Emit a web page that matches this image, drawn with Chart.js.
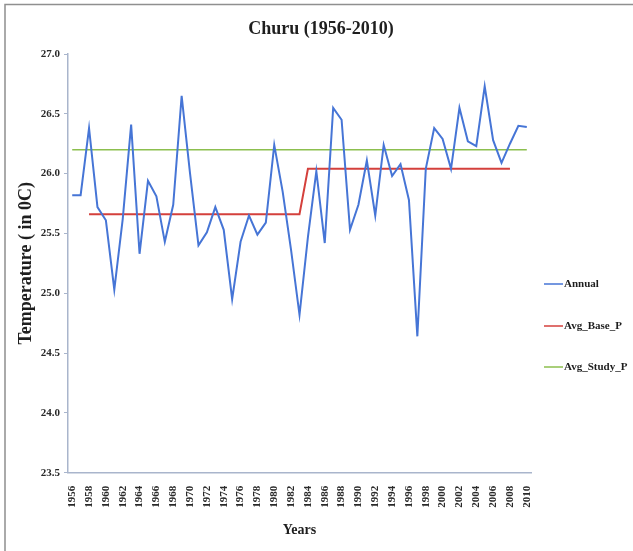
<!DOCTYPE html>
<html>
<head>
<meta charset="utf-8">
<script src="https://cdn.jsdelivr.net/npm/chart.js@4/dist/chart.umd.min.js"></script>
<style>
  html, body { margin: 0; padding: 0; background: #ffffff; }
  #wrap { position: relative; width: 633px; height: 551px; }
  canvas { display: block; }
</style>
</head>
<body>
<div id="wrap"><canvas id="chart" width="633" height="551"></canvas></div>
<script>
// Years on the category axis
const years = [
  1956, 1957, 1958, 1959, 1960, 1961, 1962, 1963, 1964, 1965,
  1966, 1967, 1968, 1969, 1970, 1971, 1972, 1973, 1974, 1975,
  1976, 1977, 1978, 1979, 1980, 1981, 1982, 1983, 1984, 1985,
  1986, 1987, 1988, 1989, 1990, 1991, 1992, 1993, 1994, 1995,
  1996, 1997, 1998, 1999, 2000, 2001, 2002, 2003, 2004, 2005,
  2006, 2007, 2008, 2009, 2010
];

// Annual mean temperature (°C)
const annual = [
  25.82, 25.82, 26.38, 25.72, 25.61, 25.03, 25.62, 26.41, 25.33, 25.94,
  25.81, 25.43, 25.74, 26.65, 26.00, 25.40, 25.51, 25.72, 25.53, 24.95,
  25.43, 25.65, 25.49, 25.59, 26.24, 25.85, 25.36, 24.82, 25.47, 26.02,
  25.42, 26.55, 26.45, 25.53, 25.74, 26.11, 25.65, 26.24, 25.98, 26.08,
  25.78, 24.64, 26.04, 26.38, 26.29, 26.04, 26.55, 26.27, 26.23, 26.73,
  26.28, 26.09, 26.25, 26.40, 26.39
];

// Base-period averages (1958-1983 and 1984-2008)
const avgBase = [
  null, null, 25.66, 25.66, 25.66, 25.66, 25.66, 25.66, 25.66, 25.66,
  25.66, 25.66, 25.66, 25.66, 25.66, 25.66, 25.66, 25.66, 25.66, 25.66,
  25.66, 25.66, 25.66, 25.66, 25.66, 25.66, 25.66, 25.66, 26.04, 26.04,
  26.04, 26.04, 26.04, 26.04, 26.04, 26.04, 26.04, 26.04, 26.04, 26.04,
  26.04, 26.04, 26.04, 26.04, 26.04, 26.04, 26.04, 26.04, 26.04, 26.04,
  26.04, 26.04, 26.04, null, null
];

// Study-period average
const studyAvgValue = 26.20;
const avgStudy = years.map(() => studyAvgValue);

// Y axis ticks
const yTicks = { min: 23.5, max: 27.0, step: 0.5 };

const chartTitle = 'Churu (1956-2010)';

const serif = "'Liberation Serif', 'Times New Roman', serif";
const axisColor = '#a9b5cc';

// Title centred over the whole figure
const figureTitle = {
  id: 'figureTitle',
  afterDraw(chart) {
    const ctx = chart.ctx;
    ctx.save();
    ctx.font = "bold 18px " + serif;
    ctx.fillStyle = '#1e1e1e';
    ctx.textAlign = 'center';
    ctx.textBaseline = 'middle';
    ctx.fillText(chartTitle, 321, 29);
    ctx.restore();
  }
};

// Legend drawn at the right, one line sample plus label per series
const sideLegend = {
  id: 'sideLegend',
  afterDraw(chart) {
    const ctx = chart.ctx;
    const rows = [284, 326, 367];
    ctx.save();
    ctx.font = "bold 11px " + serif;
    ctx.textBaseline = 'middle';
    ctx.textAlign = 'left';
    chart.data.datasets.forEach((ds, i) => {
      const y = rows[i];
      ctx.strokeStyle = ds.borderColor;
      ctx.lineWidth = 1.5;
      ctx.beginPath();
      ctx.moveTo(544, y);
      ctx.lineTo(563, y);
      ctx.stroke();
      ctx.fillStyle = '#1e1e1e';
      ctx.fillText(ds.label, 564, y + 0.5);
    });
    ctx.restore();
  }
};

// Outer frame (top and left edges)
const frame = {
  id: 'frame',
  beforeDraw(chart) {
    const ctx = chart.ctx;
    ctx.save();
    ctx.fillStyle = '#ffffff';
    ctx.fillRect(0, 0, chart.width, chart.height);
    ctx.strokeStyle = '#8f8f8f';
    ctx.lineWidth = 1.5;
    ctx.beginPath();
    ctx.moveTo(5, 551);
    ctx.lineTo(5, 4.5);
    ctx.lineTo(633, 4.5);
    ctx.stroke();
    ctx.restore();
  }
};

new Chart(document.getElementById('chart'), {
  type: 'line',
  data: {
    labels: years.map(String),
    datasets: [
      {
        label: 'Annual',
        data: annual,
        borderColor: '#4675d6',
        borderWidth: 2,
        pointRadius: 0,
        tension: 0,
        fill: false
      },
      {
        label: 'Avg_Base_P',
        data: avgBase,
        borderColor: '#d4403c',
        borderWidth: 2,
        pointRadius: 0,
        tension: 0,
        spanGaps: false,
        fill: false
      },
      {
        label: 'Avg_Study_P',
        data: avgStudy,
        borderColor: '#8cbf4e',
        borderWidth: 1.6,
        pointRadius: 0,
        tension: 0,
        fill: false
      }
    ]
  },
  options: {
    responsive: false,
    animation: false,
    layout: { padding: { left: 0, right: 102, top: 54, bottom: 0 } },
    plugins: {
      legend: { display: false },
      tooltip: { enabled: false },
      title: { display: false }
    },
    scales: {
      x: {
        type: 'category',
        offset: true,
        grid: { display: false, drawTicks: false, tickLength: 0 },
        border: { display: true, color: axisColor, width: 1.5 },
        ticks: {
          autoSkip: false,
          minRotation: 90,
          maxRotation: 90,
          padding: 13,
          color: '#2a2a2a',
          font: { family: serif, size: 11, weight: 'bold' },
          callback(value, index) {
            return index % 2 === 0 ? this.getLabelForValue(value) : '';
          }
        },
        title: {
          display: true,
          text: 'Years',
          color: '#1e1e1e',
          font: { family: serif, size: 14, weight: 'bold', lineHeight: 1.2 },
          padding: { top: 0, bottom: 12.6 }
        },
        afterFit(scale) { scale.height = 78.3; }
      },
      y: {
        min: yTicks.min,
        max: yTicks.max,
        grid: {
          display: true,
          drawOnChartArea: false,
          drawTicks: true,
          tickLength: 4,
          color: axisColor
        },
        border: { display: true, color: axisColor, width: 1.5 },
        ticks: {
          stepSize: yTicks.step,
          padding: 4,
          color: '#2a2a2a',
          font: { family: serif, size: 11, weight: 'bold' },
          callback(value) { return Number(value).toFixed(1); }
        },
        title: {
          display: true,
          text: 'Temperature ( in 0C)',
          color: '#1e1e1e',
          font: { family: serif, size: 18, weight: 'bold', lineHeight: 1.2 },
          padding: { top: 16, bottom: 0 }
        },
        afterFit(scale) { scale.width = 68; }
      }
    }
  },
  plugins: [frame, figureTitle, sideLegend]
});
</script>
</body>
</html>
